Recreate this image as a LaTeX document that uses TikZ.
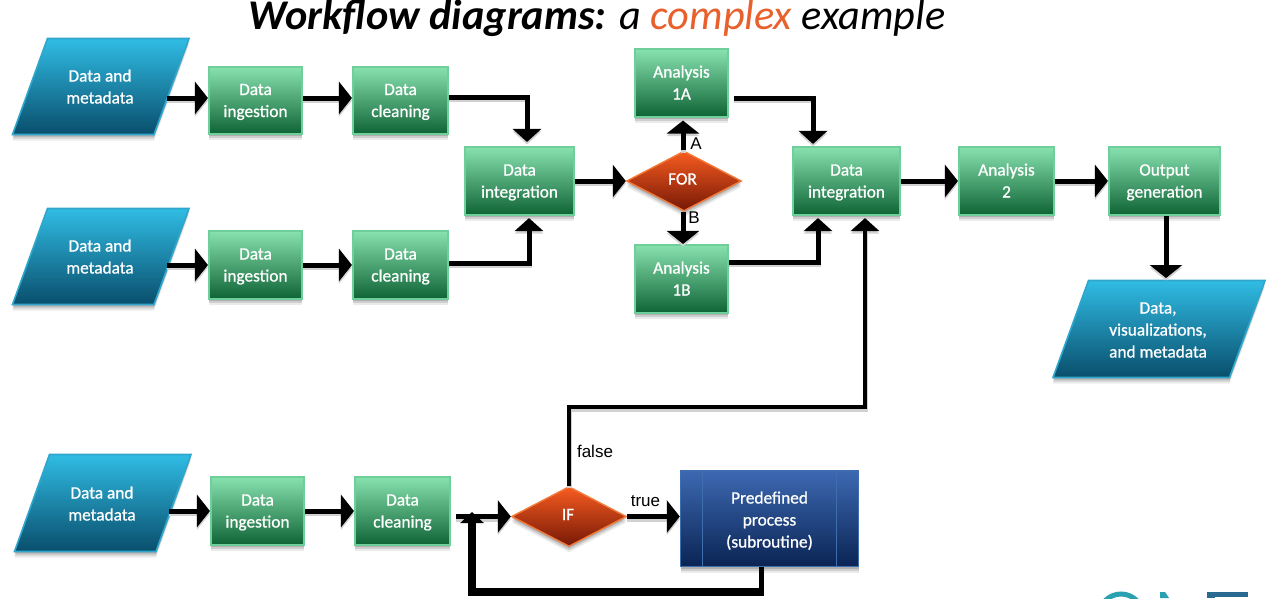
\documentclass[tikz,border=0pt]{standalone}
\usepackage{fontspec}
\setmainfont{Carlito}
\newfontfamily\boxfont[FakeBold=0.9]{Carlito}
\newfontfamily\lblfont{Liberation Sans}
\usetikzlibrary{arrows.meta,shapes.geometric,shadows,calc}
\definecolor{titleorange}{HTML}{E8602C}
\definecolor{logoteal}{HTML}{2AA0B0}
\definecolor{logoblue}{HTML}{2A6A90}
\definecolor{greentop}{HTML}{88E2B0}
\definecolor{greenbot}{HTML}{0E6334}
\definecolor{greenedge}{HTML}{6FCF9A}
\definecolor{redtop}{HTML}{F75C20}
\definecolor{redbot}{HTML}{761806}
\definecolor{rededge}{HTML}{F27A3A}
\definecolor{paratop}{HTML}{30BCE4}
\definecolor{parabot}{HTML}{094E6C}
\definecolor{paraedge}{HTML}{2FA6CC}
\definecolor{proctop}{HTML}{3D69B2}
\definecolor{procbot}{HTML}{0A2454}
\definecolor{procedge}{HTML}{3F6EAE}
\tikzset{
  rh/.store in=\riseheight,
  rh=39pt,
  boxshadow/.style={
    drop shadow={shadow xshift=0pt,shadow yshift=-6pt,opacity=.08,fill=black},
    drop shadow={shadow xshift=0pt,shadow yshift=-4pt,opacity=.12,fill=black},
    drop shadow={shadow xshift=0pt,shadow yshift=-2pt,opacity=.15,fill=black}},
  boxtext/.style={text=white,align=center,font=\boxfont\fontsize{17.3}{22}\selectfont,inner sep=0pt,
    execute at begin node={\rule{0pt}{\riseheight}},execute at end node={\rule[-6pt]{0pt}{1pt}}},
  greenbox/.style={boxtext,rectangle,top color=greentop,bottom color=greenbot,draw=greenedge,line width=1.6pt,boxshadow},
  redbox/.style={boxtext,diamond,top color=redtop,bottom color=redbot,draw=rededge,line width=1.4pt,boxshadow,shape aspect=1.9,rh=13pt},
  bluepara/.style={top color=paratop,bottom color=parabot,draw=paraedge,line width=1.6pt,line join=miter,boxshadow},
  paratext/.style={boxtext,minimum height=40pt},
  process/.style={boxtext,rectangle,top color=proctop,bottom color=procbot,draw=procedge,line width=1.4pt,boxshadow,rh=64pt},
  flow/.style={line join=miter,line width=5pt,-{Triangle[length=13pt,width=#1]},
    preaction={draw=black!18,line width=5pt,-{Triangle[length=13pt,width=#1]},transform canvas={yshift=-2.5pt}}},
  flow/.default=32pt,
  edgelabel/.style={font=\lblfont\fontsize{17}{19}\selectfont,inner sep=0pt},
}
\newcommand{\paral}[5]{% tl x, tr x, top y, bottom y, skew
  \path[bluepara] (#1,#3) -- (#2,#3) -- (#2-#5,#4) -- (#1-#5,#4) -- cycle;}
\begin{document}
\begin{tikzpicture}[x=1pt,y=-1pt]
\useasboundingbox (0,0) rectangle (1272,598);
\clip (0,0) rectangle (1272,598);

% title
\node[anchor=base,inner sep=0pt,font=\fontsize{42.3}{46}\selectfont\itshape] (title) at (597,29)
  {\textbf{Workflow diagrams:} a \textcolor{titleorange}{complex} example};

% input / output parallelograms
\paral{47.5}{189}{38.5}{134.5}{35}
\paral{47.5}{189}{208.5}{304.5}{35}
\paral{49.5}{191}{454.5}{551.5}{35}
\paral{1088.5}{1265}{280.5}{377.5}{35.5}
\node[paratext,minimum width=134pt] (d1) at (100,87) {Data and\\metadata};
\node[paratext,minimum width=134pt] (d2) at (100,257) {Data and\\metadata};
\node[paratext,minimum width=134pt] (d3) at (102,504) {Data and\\metadata};
\node[paratext,rh=63pt] (dout) at (1158,329) {Data,\\visualizations,\\and metadata};
\coordinate (outtop) at (1166,278);

% process boxes
\node[greenbox,minimum width=93.5pt,minimum height=67.5pt] (i1) at (255.5,100.5) {Data\\ingestion};
\node[greenbox,minimum width=95.5pt,minimum height=67.5pt] (c1) at (400.5,100.5) {Data\\cleaning};
\node[greenbox,minimum width=93.5pt,minimum height=68.5pt] (i2) at (255.5,265) {Data\\ingestion};
\node[greenbox,minimum width=95.5pt,minimum height=68.5pt] (c2) at (400.5,265) {Data\\cleaning};
\node[greenbox,minimum width=93.5pt,minimum height=68.5pt] (i3) at (257.5,511) {Data\\ingestion};
\node[greenbox,minimum width=95.5pt,minimum height=68.5pt] (c3) at (402.5,511) {Data\\cleaning};
\node[greenbox,minimum width=109.5pt,minimum height=68.5pt] (m1) at (519.5,181) {Data\\integration};
\node[greenbox,minimum width=93.5pt,minimum height=67.5pt] (a1) at (681.5,83) {Analysis\\1A};
\node[greenbox,minimum width=93.5pt,minimum height=68.5pt] (b1) at (681.5,279) {Analysis\\1B};
\node[greenbox,minimum width=107.5pt,minimum height=68.5pt] (m2) at (846.5,181) {Data\\integration};
\node[greenbox,minimum width=95.5pt,minimum height=68.5pt] (a2) at (1006.5,181) {Analysis\\2};
\node[greenbox,minimum width=111.5pt,minimum height=68.5pt] (og) at (1164.5,181) {Output\\generation};

% decisions
\node[redbox,minimum width=115pt,minimum height=60pt] (for) at (684,181) {FOR\kern3pt};
\node[redbox,minimum width=115pt,minimum height=60pt] (if) at (569,516.5) {IF\kern2pt};

% subroutine
\node[process,minimum width=178pt,minimum height=96pt] (sub) at (769.5,518.5) {Predefined\\process\\(subroutine)};
\draw[procedge,line width=1.2pt] ([xshift=23pt]sub.north west) -- ([xshift=23pt]sub.south west);
\draw[procedge,line width=1.2pt] ([xshift=-23pt]sub.north east) -- ([xshift=-23pt]sub.south east);

% row connectors
\draw[flow] ([yshift=2.5pt]d1.east |- i1.west) -- ([yshift=2.5pt]i1.west);
\draw[flow] ([yshift=2.5pt]i1.east) -- ([yshift=2.5pt]c1.west);
\draw[flow] (d2.east |- i2.west) -- (i2.west);
\draw[flow] (i2.east) -- (c2.west);
\draw[flow] (d3.east |- i3.west) -- (i3.west);
\draw[flow] (i3.east) -- (c3.west);
\draw[flow=28pt] ([yshift=3.5pt]c1.east) -| ([xshift=7.5pt,yshift=4pt]m1.north);
\draw[flow=28pt] ([yshift=2pt]c2.east) -| ([xshift=9.5pt,yshift=-2pt]m1.south);
\draw[flow] (m1.east) -- (for.west);
\draw[flow] ([xshift=-1pt]for.north) -- ([xshift=1.5pt,yshift=-3pt]a1.south);
\draw[flow] ([xshift=-1pt]for.south) -- ([xshift=1.5pt]b1.north);
\draw[flow=28pt] ([xshift=5pt,yshift=-15pt]a1.east) -| ([xshift=-33.5pt,yshift=2pt]m2.north);
\draw[flow=28pt] ([yshift=17pt]b1.east) -| ([xshift=-28.5pt,yshift=-2pt]m2.south);
\draw[flow] (m2.east) -- (a2.west);
\draw[flow] (a2.east) -- (og.west);
\draw[flow] ([xshift=1.5pt]og.south) -- (outtop);
\draw[flow=28pt,line width=4pt] (if.north) |- (569,407) -| ([xshift=18.5pt,yshift=-2pt]m2.south);

% bottom row right part
\draw[flow] ([xshift=5pt]c3.east |- if.west) -- (if.west);
\draw[flow] (if.east) -- (if.east -| sub.west);
\coordinate (loopbottom) at (761,592);
\draw[line width=5pt] (sub.south -| loopbottom) -- ([yshift=-4pt]loopbottom);
\draw[line width=8pt,line join=miter,-{Triangle[length=11pt,width=23pt]}] (loopbottom) -| (472,512);

% edge labels
\node[edgelabel] (lA) at (696,144) {A};
\node[edgelabel] (lB) at (694,218) {B};
\node[edgelabel] (lfalse) at (595,451) {false};
\node[edgelabel] (ltrue) at (645.5,501) {true};

% logo fragment
\draw[logoteal,line width=5pt] (1121,616) circle (22pt);
\fill[logoteal] (1160,592) -- (1165,592) -- (1169,598) -- (1160,598) -- cycle;
\fill[logoblue] (1207,592) rectangle (1248,597);
\fill[logoblue] (1207,597) rectangle (1215,598);
\end{tikzpicture}
\end{document}
